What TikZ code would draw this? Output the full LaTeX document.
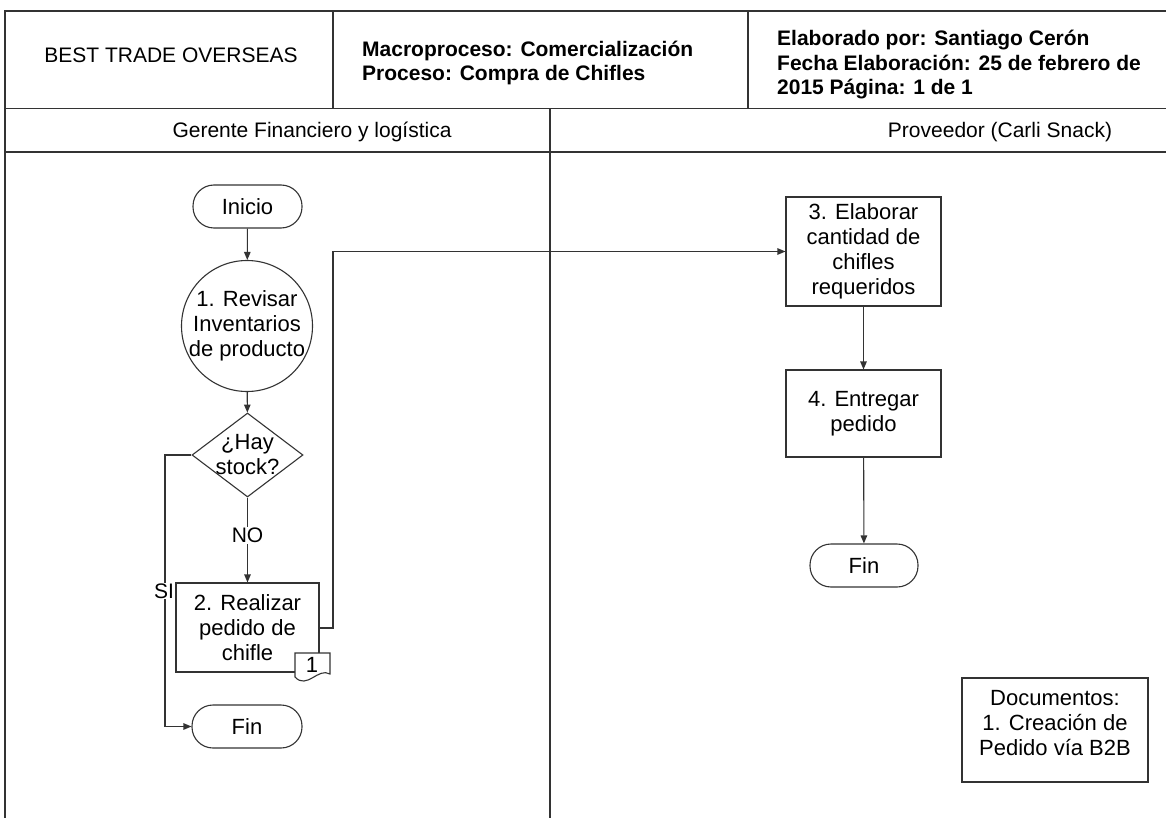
\documentclass[tikz,border=0pt]{standalone}
\usepackage{fontspec}
\setmainfont{Liberation Sans}
\usetikzlibrary{shapes.geometric,arrows.meta}
\begin{document}
\begin{tikzpicture}[x=1pt,y=-1pt,
  ln/.style={draw=black!80,line width=1.1pt},
  txt/.style={font=\fontsize{21}{25}\selectfont,align=center,inner sep=0pt},
  ntxt/.style={font=\fontsize{22}{25}\selectfont,align=center,inner sep=0pt},
  bold/.style={font=\bfseries\fontsize{21}{24.5}\selectfont,align=left,inner sep=0pt},
  term/.style={ln,rectangle,rounded corners=21pt,minimum height=43pt,fill=white,font=\fontsize{22}{25}\selectfont},
  proc/.style={ln,rectangle,fill=white,font=\fontsize{22}{25}\selectfont,align=center,inner sep=0pt},
  circ/.style={ln,circle,minimum size=131pt,inner sep=0pt,fill=white},
  dec/.style={ln,diamond,minimum width=111pt,minimum height=84pt,inner sep=0pt,fill=white},
  arr/.style={ln,-{Triangle[length=8pt,width=6.5pt]}},
  lbl/.style={font=\fontsize{21}{25}\selectfont,fill=white,inner sep=1pt}
]
\useasboundingbox (0,0) rectangle (1166,818);
\fill[white] (0,0) rectangle (1166,818);
% frame
\draw[ln] (1166,11) -- (5,11) -- (5,818);
\draw[ln] (5,108.5) -- (1166,108.5);
\draw[ln] (5,152) -- (1166,152);
\draw[ln] (333,11) -- (333,108.5);
\draw[ln] (748,11) -- (748,108.5);
\draw[ln] (550,108.5) -- (550,818);
% header texts
\node[txt,anchor=base] (h1) at (171,63) {BEST TRADE OVERSEAS};
\node[bold,anchor=west] (h2) at (362,63) {Macroproceso: Comercialización\\Proceso: Compra de Chifles};
\node[bold,anchor=west] (h3) at (777,65) {Elaborado por: Santiago Cerón\\Fecha Elaboración: 25 de febrero de\\2015 Página: 1 de 1};
\node[txt,anchor=base] (l1) at (312,138) {Gerente Financiero y logística};
\node[txt,anchor=base] (l2) at (1000,138) {Proveedor (Carli Snack)};
% left lane
\node[term,minimum width=109pt] (ini) at (247.5,206.5) {Inicio};
\node[circ] (rev) at (247,326) {};
\node[ntxt] (revt) at (rev) {1. Revisar\\Inventarios\\de producto};
\node[dec] (dec) at (247.5,455) {};
\node[ntxt] (dect) at (dec) {¿Hay\\stock?};
\node[proc,minimum width=143pt,minimum height=89pt] (p2) at (247.5,627.5) {2. Realizar\\pedido de\\chifle};
\draw[ln,fill=white] (295,653) -- (330,653) -- (330,674) .. controls (318,667) and (307,690) .. (295,677) -- cycle;
\node[ntxt] (doc) at (312,665) {1};
\node[term,minimum width=110pt] (fin1) at (247,726.5) {Fin};
% right lane
\node[proc,minimum width=155pt,minimum height=109pt] (p3) at (863.5,251.5) {3. Elaborar\\cantidad de\\chifles\\requeridos};
\node[proc,minimum width=155pt,minimum height=87pt] (p4) at (863.5,413.5) {4. Entregar\\pedido};
\node[term,minimum width=108pt] (fin2) at (864,565.5) {Fin};
\node[ln,rectangle,minimum width=186pt,minimum height=104pt] (docs) at (1055,730) {};
\node[ntxt,anchor=north] (docst) at (1055,690) {Documentos:\\1. Creación de\\Pedido vía B2B};
% connectors
\coordinate (siA) at (165,455);
\coordinate (siB) at (165,726.5);
\coordinate (cA) at (333,628);
\coordinate (cB) at (333,251.5);
\draw[arr] (ini) -- (rev);
\draw[arr] (rev) -- (dec);
\draw[arr] (dec) -- node[lbl,pos=0.45] {NO} (p2);
\draw[arr] (dec.west) -- (siA) -- (siB) -- (fin1.west);
\node[lbl] (si) at (164,591) {SI};
\draw[arr] (p2.east |- cA) -- (cA) -- (cB) -- (p3.west);
\draw[arr] (p3) -- (p4);
\draw[arr] (p4) -- (fin2);
\end{tikzpicture}
\end{document}
